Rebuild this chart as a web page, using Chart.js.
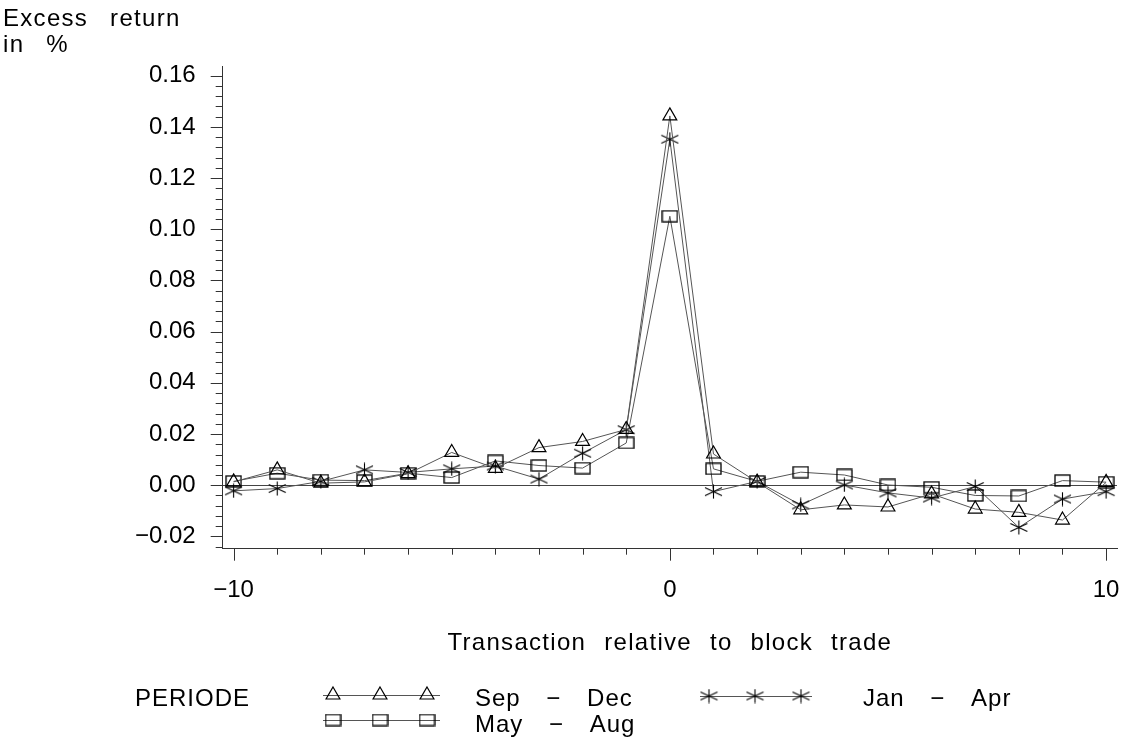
<!DOCTYPE html>
<html><head><meta charset="utf-8">
<script src="https://cdn.jsdelivr.net/npm/chart.js@4.4.1/dist/chart.umd.min.js"></script>
<style>html,body{margin:0;padding:0;background:#fff;}#wrap{width:1127px;height:747px;position:relative;}</style>
</head><body><div id="wrap"><canvas id="c" width="1127" height="747"></canvas></div>
<script>
// ---- data ----
const positions = [-10,-9,-8,-7,-6,-5,-4,-3,-2,-1,0,1,2,3,4,5,6,7,8,9,10];
const sepDec = [0.0013,0.0060,0.0008,0.0013,0.0045,0.0128,0.0066,0.0147,0.0171,0.0218,0.1443,0.0122,0.0012,-0.0096,-0.0077,-0.0085,-0.0034,-0.0093,-0.0106,-0.0136,0.0011];
const mayAug = [0.0015,0.0047,0.0020,0.0018,0.0047,0.0030,0.0095,0.0077,0.0067,0.0165,0.1051,0.0064,0.0015,0.0051,0.0040,0.0001,-0.0008,-0.0040,-0.0042,0.0018,0.0012];
const janApr = [-0.0022,-0.0013,0.0015,0.0060,0.0050,0.0064,0.0075,0.0024,0.0125,0.0217,0.1352,-0.0025,0.0015,-0.0077,0.0001,-0.0030,-0.0050,-0.0005,-0.0165,-0.0054,-0.0025];
const seriesLabels = ['Sep − Dec','May − Aug','Jan − Apr'];
const xLabelValues = [-10,0,10];
const yMajorStep = 0.02;
const yMinorStep = 0.004;
const yTitleLines = ['Excess return','in %'];
const xTitle = 'Transaction relative to block trade';
const legendTitle = 'PERIODE';

// ---- marker images ----
function makeSquare(){const c=document.createElement('canvas');c.width=17;c.height=13;const g=c.getContext('2d');g.strokeStyle='#000';g.lineWidth=1.3;g.strokeRect(1,1,15,11);return c;}
function makeStar(){const c=document.createElement('canvas');c.width=19;c.height=15;const g=c.getContext('2d');g.strokeStyle='#000';g.lineWidth=1.1;g.beginPath();g.moveTo(9.5,0.5);g.lineTo(9.5,14.5);g.moveTo(1,3.5);g.lineTo(18,11.5);g.moveTo(1,11.5);g.lineTo(18,3.5);g.stroke();return c;}
const squareImg = makeSquare();
const starImg = makeStar();

const toXY = arr => positions.map((x,i)=>({x:x,y:arr[i]}));
const FONT = '"Liberation Sans", Arial, sans-serif';
const isYMajor = v => Math.abs(v/yMajorStep - Math.round(v/yMajorStep)) < 1e-6;
const fmtY = v => { const s = Math.abs(v).toFixed(2); return (v < -1e-9 ? '−' : '') + s; };

const decor = {
  id:'decor',
  afterDraw(chart){
    const ctx = chart.ctx, xs = chart.scales.x, ys = chart.scales.y;
    ctx.save();
    ctx.strokeStyle = '#333'; ctx.lineWidth = 1;
    ys.ticks.forEach(t=>{
      const p = Math.round(ys.getPixelForValue(t.value))+0.5;
      const len = isYMajor(t.value) ? 12 : 7;
      ctx.beginPath(); ctx.moveTo(ys.right-len, p); ctx.lineTo(ys.right, p); ctx.stroke();
    });
    xs.ticks.forEach(t=>{
      const p = Math.round(xs.getPixelForValue(t.value))+0.5;
      const len = xLabelValues.includes(t.value) ? 12 : 6;
      ctx.beginPath(); ctx.moveTo(p, xs.top); ctx.lineTo(p, xs.top+len); ctx.stroke();
    });
    // titles
    ctx.fillStyle = '#000';
    ctx.font = '24px ' + FONT;
    ctx.textBaseline = 'middle';
    try { ctx.letterSpacing = '1.3px'; ctx.wordSpacing = '14px'; } catch(e) {}
    ctx.textAlign = 'left';
    ctx.fillText(yTitleLines[0], 3, 19);
    ctx.fillText(yTitleLines[1], 3, 45);
    try { ctx.wordSpacing = '10px'; } catch(e) {}
    ctx.textAlign = 'center';
    ctx.fillText(xTitle, (xs.left+xs.right)/2, 643);
    // legend
    try { ctx.letterSpacing = '1px'; } catch(e) {}
    ctx.textAlign = 'right';
    ctx.fillText(legendTitle, 250, 699);
    ctx.textAlign = 'left';
    try { ctx.wordSpacing = '18px'; } catch(e) {}
    const items = [
      {ds:0, x0:323, x1:440, marks:[333,380,427], tx:475, ly:695, ty:699},
      {ds:2, x0:700, x1:812, marks:[709,755,801], tx:863, ly:696, ty:699},
      {ds:1, x0:323, x1:440, marks:[333,380,427], tx:475, ly:720, ty:725}
    ];
    items.forEach(it=>{
      const ds = chart.data.datasets[it.ds];
      ctx.strokeStyle = ds.borderColor; ctx.lineWidth = 1;
      ctx.beginPath(); ctx.moveTo(it.x0, it.ly+0.5); ctx.lineTo(it.x1, it.ly+0.5); ctx.stroke();
      ctx.strokeStyle = '#000'; ctx.fillStyle = 'rgba(0,0,0,0)'; ctx.lineWidth = ds.pointBorderWidth;
      it.marks.forEach(mx=>{
        Chart.helpers.drawPoint(ctx, {pointStyle: ds.pointStyle, radius: ds.pointRadius, borderWidth: ds.pointBorderWidth, rotation: 0}, mx, it.ly);
      });
      ctx.fillStyle = '#000';
      ctx.fillText(ds.label, it.tx, it.ty);
    });
    ctx.restore();
  }
};

const common = {borderColor:'#555', borderWidth:1, pointBorderColor:'#000', pointBackgroundColor:'rgba(0,0,0,0)', pointBorderWidth:1.2, pointRadius:8, tension:0, fill:false};

new Chart(document.getElementById('c'), {
  type:'line',
  data:{datasets:[
    Object.assign({label:seriesLabels[0], data:toXY(sepDec), pointStyle:'triangle'}, common),
    Object.assign({label:seriesLabels[1], data:toXY(mayAug), pointStyle:squareImg}, common),
    Object.assign({label:seriesLabels[2], data:toXY(janApr), pointStyle:starImg}, common)
  ]},
  options:{
    responsive:false, animation:false, events:[],
    layout:{padding:{left:0, right:10, top:66, bottom:138.3}},
    plugins:{legend:{display:false}, title:{display:false}, tooltip:{enabled:false}},
    scales:{
      x:{type:'linear', min:-10.25, max:10.25,
        afterBuildTicks: s => { s.ticks = positions.map(v=>({value:v})); },
        afterFit: s => { s.height = 60; s.paddingLeft = 0; s.paddingRight = 0; },
        ticks:{autoSkip:false, maxRotation:0, padding:27, color:'#000', font:{family:FONT, size:24},
          callback: v => xLabelValues.includes(v) ? (v<0 ? '−'+Math.abs(v) : String(v)) : ''},
        grid:{drawTicks:false, color:'rgba(0,0,0,0)'},
        border:{display:true, color:'#333', width:1}
      },
      y:{type:'linear', min:-0.0248, max:0.1638,
        afterBuildTicks: s => { const t=[]; for(let k=-6;k<=40;k++) t.push({value: Math.round(k*yMinorStep*1e6)/1e6}); s.ticks=t; },
        afterFit: s => { s.width = 222.7; s.paddingTop = 0; s.paddingBottom = 0; },
        ticks:{autoSkip:false, padding:27, color:'#000', font:{family:FONT, size:24},
          callback: v => isYMajor(v) ? fmtY(v) : ''},
        grid:{drawTicks:false, color: c => (c.tick && Math.abs(c.tick.value) < 1e-9) ? '#444' : 'rgba(0,0,0,0)', lineWidth:1},
        border:{display:true, color:'#333', width:1}
      }
    }
  },
  plugins:[decor]
});
</script></body></html>
